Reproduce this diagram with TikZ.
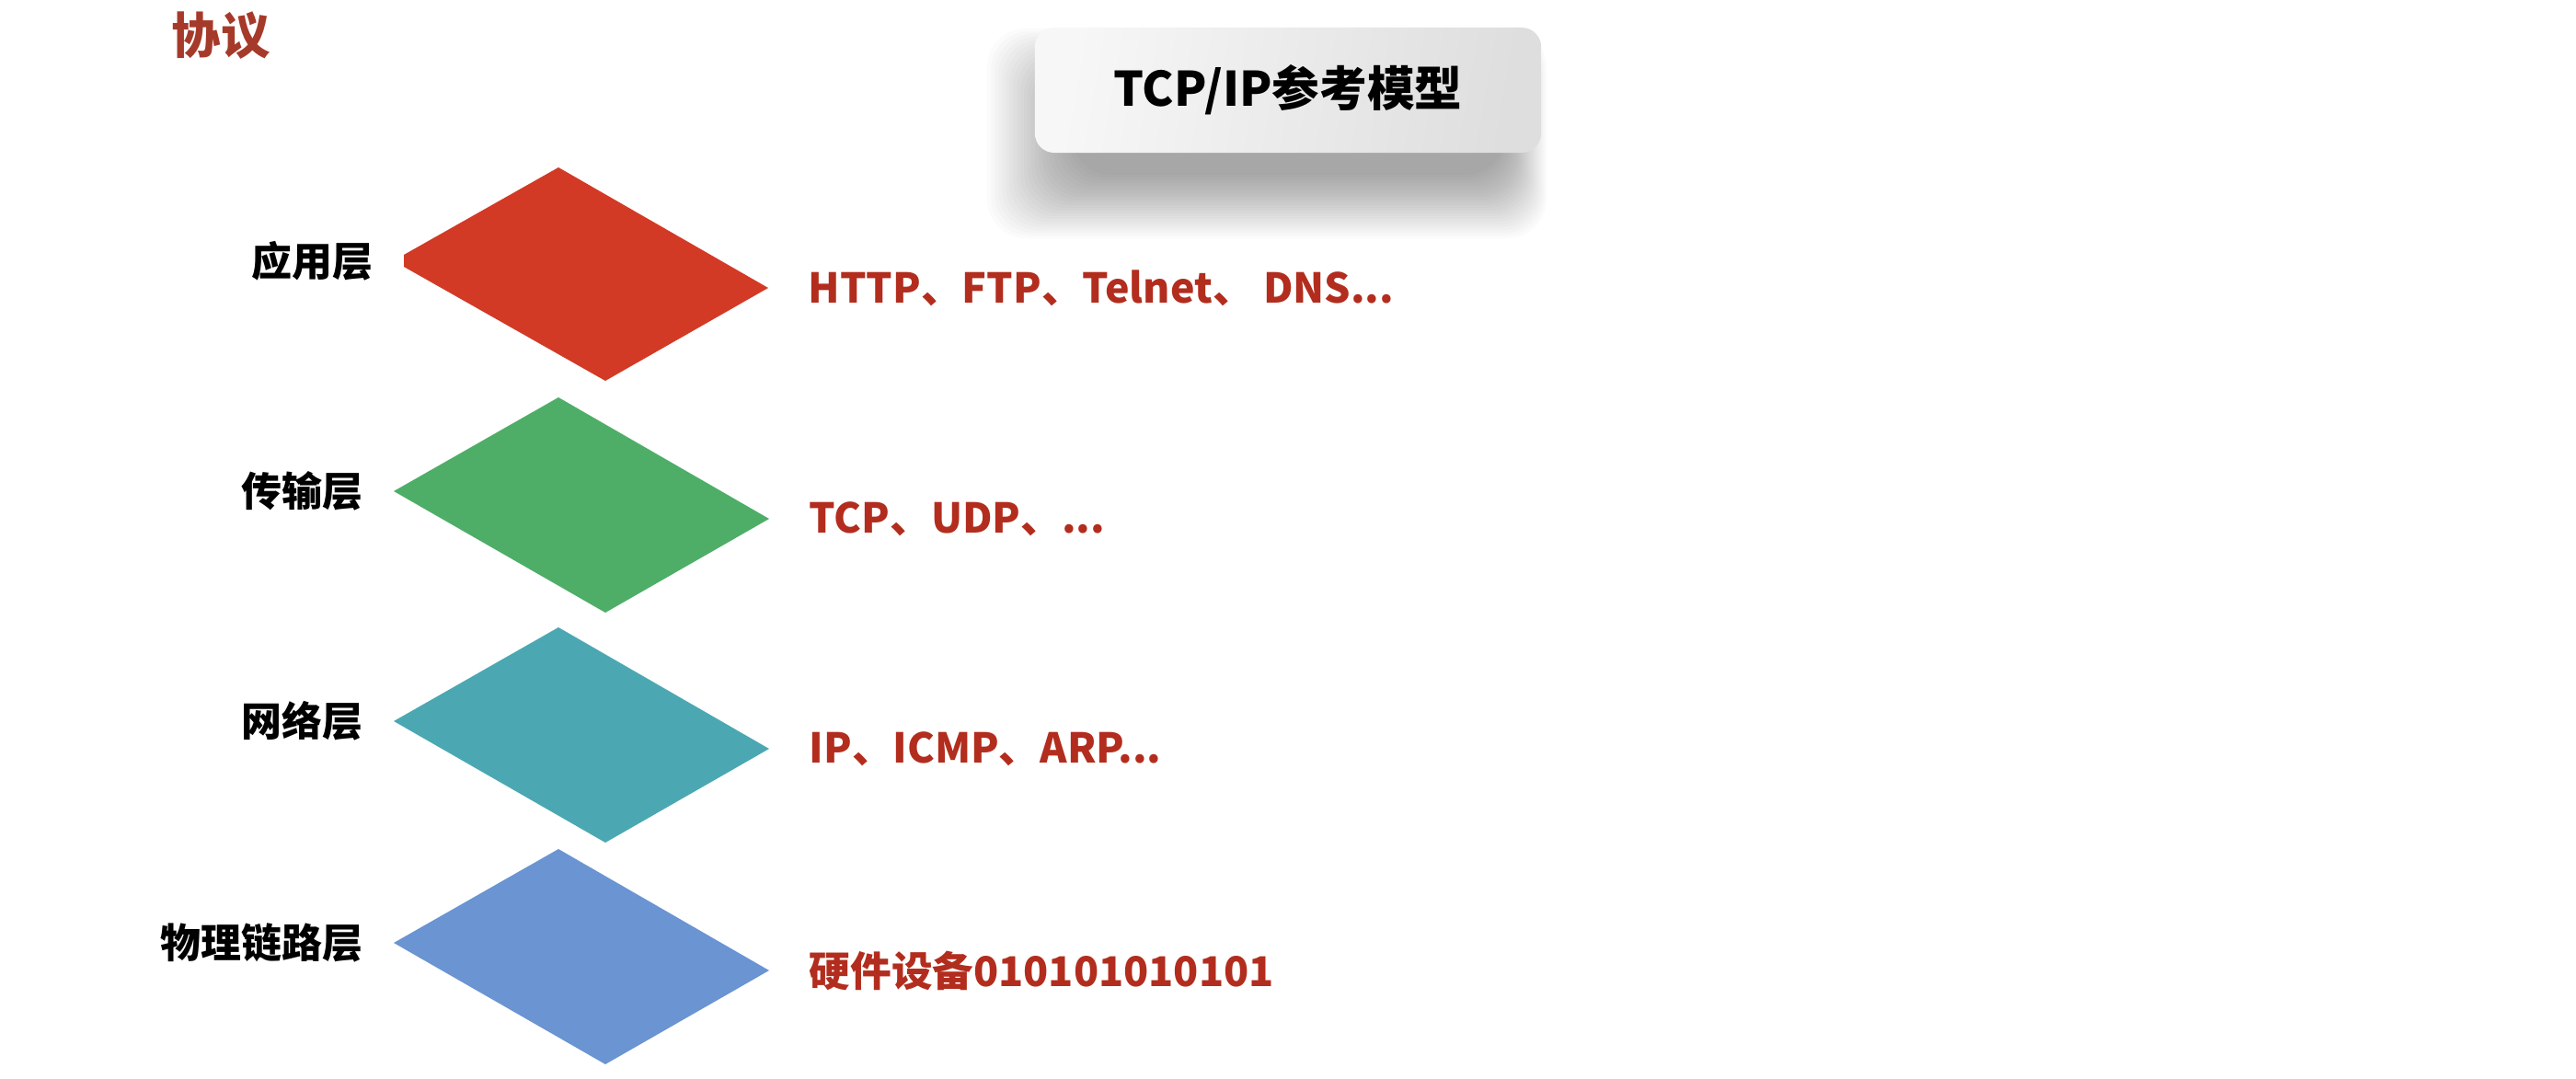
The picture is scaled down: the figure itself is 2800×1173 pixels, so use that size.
\documentclass[tikz,border=0pt]{standalone}
\usepackage{fontspec}
\setmainfont{Noto Sans CJK SC}
\usetikzlibrary{positioning}
\definecolor{applayer}{HTML}{D23A26}
\definecolor{translayer}{HTML}{4EAE68}
\definecolor{netlayer}{HTML}{4BA8B3}
\definecolor{physlayer}{HTML}{6A94D2}
\definecolor{protored}{HTML}{B22D1E}
\definecolor{headred}{HTML}{A63A2A}

\tikzset{
  layername/.style={font=\bfseries\fontsize{12.5}{14}\selectfont, inner sep=0pt},
  protolist/.style={text=protored, font=\bfseries\fontsize{12.7}{15}\selectfont, inner sep=0pt},
  titlecard/.style={rounded corners=6pt, minimum width=5.5cm, minimum height=1.36cm,
    left color=white!97!black, right color=white!87!black, shading angle=80,
    font=\bfseries\fontsize{14.7}{17}\selectfont}
}

\begin{document}
\begin{tikzpicture}[x=0.01cm,y=-0.01cm]
  \useasboundingbox[fill=white] (0,0) rectangle (2800,1173);
  % soft shadow under the title card
  \foreach \i in {0,...,23}
    \fill[black,opacity=0.017,rounded corners=12pt] (1165-4*\i,100-3*\i) rectangle (1635+2*\i,190+3*\i);
  \node[titlecard] (title) at (1400,98) {TCP/IP参考模型};
  \node[text=headred, font=\bfseries\fontsize{15.2}{17}\selectfont, inner sep=0pt] (proto) at (240,39) {协议};

  % application layer slab, cut at its left corner
  \coordinate (app-l) at (439,284);
  \coordinate (app-r) at (835,313);
  \fill[applayer] (607,182) -- (app-r) -- (658,414) -- (439,290) -- (439,277) -- cycle;
  % the other three slabs
  \foreach \name/\col/\y in {trans/translayer/432, net/netlayer/682, phys/physlayer/923} {
    \coordinate (\name-t) at (607,\y);
    \coordinate (\name-r) at (836,\y+132);
    \coordinate (\name-b) at (658,\y+234);
    \coordinate (\name-l) at (428,\y+102);
    \fill[\col] (\name-t) -- (\name-r) -- (\name-b) -- (\name-l) -- cycle;
  }

  \node[layername, left=0.33cm of app-l] (app-name) {应用层};
  \node[layername, left=0.33cm of trans-l] (trans-name) {传输层};
  \node[layername, left=0.33cm of net-l] (net-name) {网络层};
  \node[layername, left=0.33cm of phys-l] (phys-name) {物理链路层};

  \node[protolist, right=0.43cm of app-r] (app-proto) {HTTP、FTP、Telnet、 DNS...};
  \node[protolist, right=0.43cm of trans-r] (trans-proto) {TCP、UDP、...};
  \node[protolist, right=0.43cm of net-r] (net-proto) {IP、ICMP、ARP...};
  \node[protolist, right=0.43cm of phys-r] (phys-proto) {硬件设备010101010101};
\end{tikzpicture}
\end{document}
